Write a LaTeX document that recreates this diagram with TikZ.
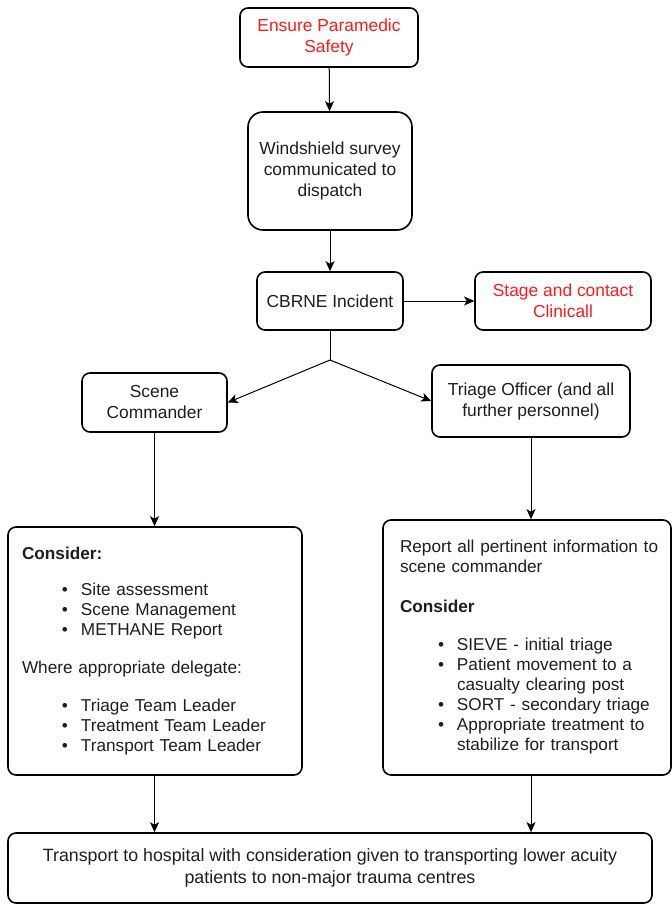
\documentclass[tikz,border=0pt]{standalone}
\usepackage{fontspec}
\setmainfont{Liberation Sans}
\usetikzlibrary{arrows.meta}
\definecolor{alertred}{HTML}{FF1A1A}
\definecolor{inktext}{HTML}{1E1E1E}
% bullet item: #1 = indent of the bullet, #2 = item text
\newcommand{\bul}[2]{\hspace*{#1}\makebox[19pt][l]{\textbullet}#2}
\tikzset{
  box/.style={draw, line width=1.6pt, rounded corners=8pt, align=center,
              inner sep=4pt, text=inktext,
              font=\fontsize{17.4}{21}\selectfont},
  bigbox/.style={box, align=left, inner sep=0pt,
              font=\fontsize{17.2}{20}\selectfont},
  flow/.style={line width=1pt, -{Stealth[length=10pt,width=9pt,inset=2.5pt]}},
  plain/.style={line width=1pt}
}
\begin{document}
\begin{tikzpicture}[x=1pt,y=-1pt]
  \useasboundingbox (0,0) rectangle (672,905);

  % top of the flow
  \node[box, minimum width=178pt, minimum height=59pt, text=alertred]
    (safety) at (329,37.5) {Ensure Paramedic\\Safety};
  \node[box, rounded corners=15pt, minimum width=164pt, minimum height=118pt]
    (survey) at (330,171) {Windshield survey\\communicated to\\dispatch};
  \node[box, minimum width=146pt, minimum height=58pt]
    (cbrne) at (330,301) {CBRNE Incident};
  \node[box, minimum width=176pt, minimum height=58pt, text=alertred]
    (stage) at (563,301) {Stage and contact\\Clinicall};

  % the two roles
  \node[box, minimum width=145pt, minimum height=59pt]
    (scene) at (154.5,402.5) {Scene\\Commander};
  \node[box, minimum width=198pt, minimum height=72pt]
    (triage) at (531,401) {Triage Officer (and all\\further personnel)};

  % task lists
  \node[bigbox, minimum width=294pt, minimum height=248pt, text width=294pt]
    (scenetasks) at (155,651) {%
      \hspace*{14pt}\textbf{Consider:}\\[16pt]
      \bul{54pt}{Site assessment}\\
      \bul{54pt}{Scene Management}\\
      \bul{54pt}{METHANE Report}\\[18pt]
      \hspace*{14pt}Where appropriate delegate:\\[18pt]
      \bul{54pt}{Triage Team Leader}\\
      \bul{54pt}{Treatment Team Leader}\\
      \bul{54pt}{Transport Team Leader}};
  \node[bigbox, minimum width=288pt, minimum height=255pt, text width=288pt]
    (triagetasks) at (527,647.5) {%
      \hspace*{17pt}Report all pertinent information to\\
      \hspace*{17pt}scene commander\\[20pt]
      \hspace*{17pt}\textbf{Consider}\\[18pt]
      \bul{55pt}{SIEVE - initial triage}\\
      \bul{55pt}{Patient movement to a}\\
      \hspace*{74pt}casualty clearing post\\
      \bul{55pt}{SORT - secondary triage}\\
      \bul{55pt}{Appropriate treatment to}\\
      \hspace*{74pt}stabilize for transport};

  % final step
  \node[box, minimum width=644pt, minimum height=70pt,
        font=\fontsize{17.8}{22}\selectfont]
    (hospital) at (330,868) {Transport to hospital with consideration given to transporting lower acuity\\patients to non-major trauma centres};

  % connectors
  \coordinate (fork) at (330,360);
  \draw[flow] (safety) -- (survey);
  \draw[flow] (survey) -- (cbrne);
  \draw[flow] (cbrne) -- (stage);
  \draw[plain] (cbrne.south) -- (fork);
  \draw[flow, rounded corners=4pt] (fork) -- (scene.east);
  \draw[flow, rounded corners=4pt] (fork) -- (triage.west);
  \draw[flow] (scene.south) -- (scene.south |- scenetasks.north);
  \draw[flow] (triage.south) -- (triage.south |- triagetasks.north);
  \draw[flow] (scene.south |- scenetasks.south) -- (scene.south |- hospital.north);
  \draw[flow] (triage.south |- triagetasks.south) -- (triage.south |- hospital.north);
\end{tikzpicture}
\end{document}
